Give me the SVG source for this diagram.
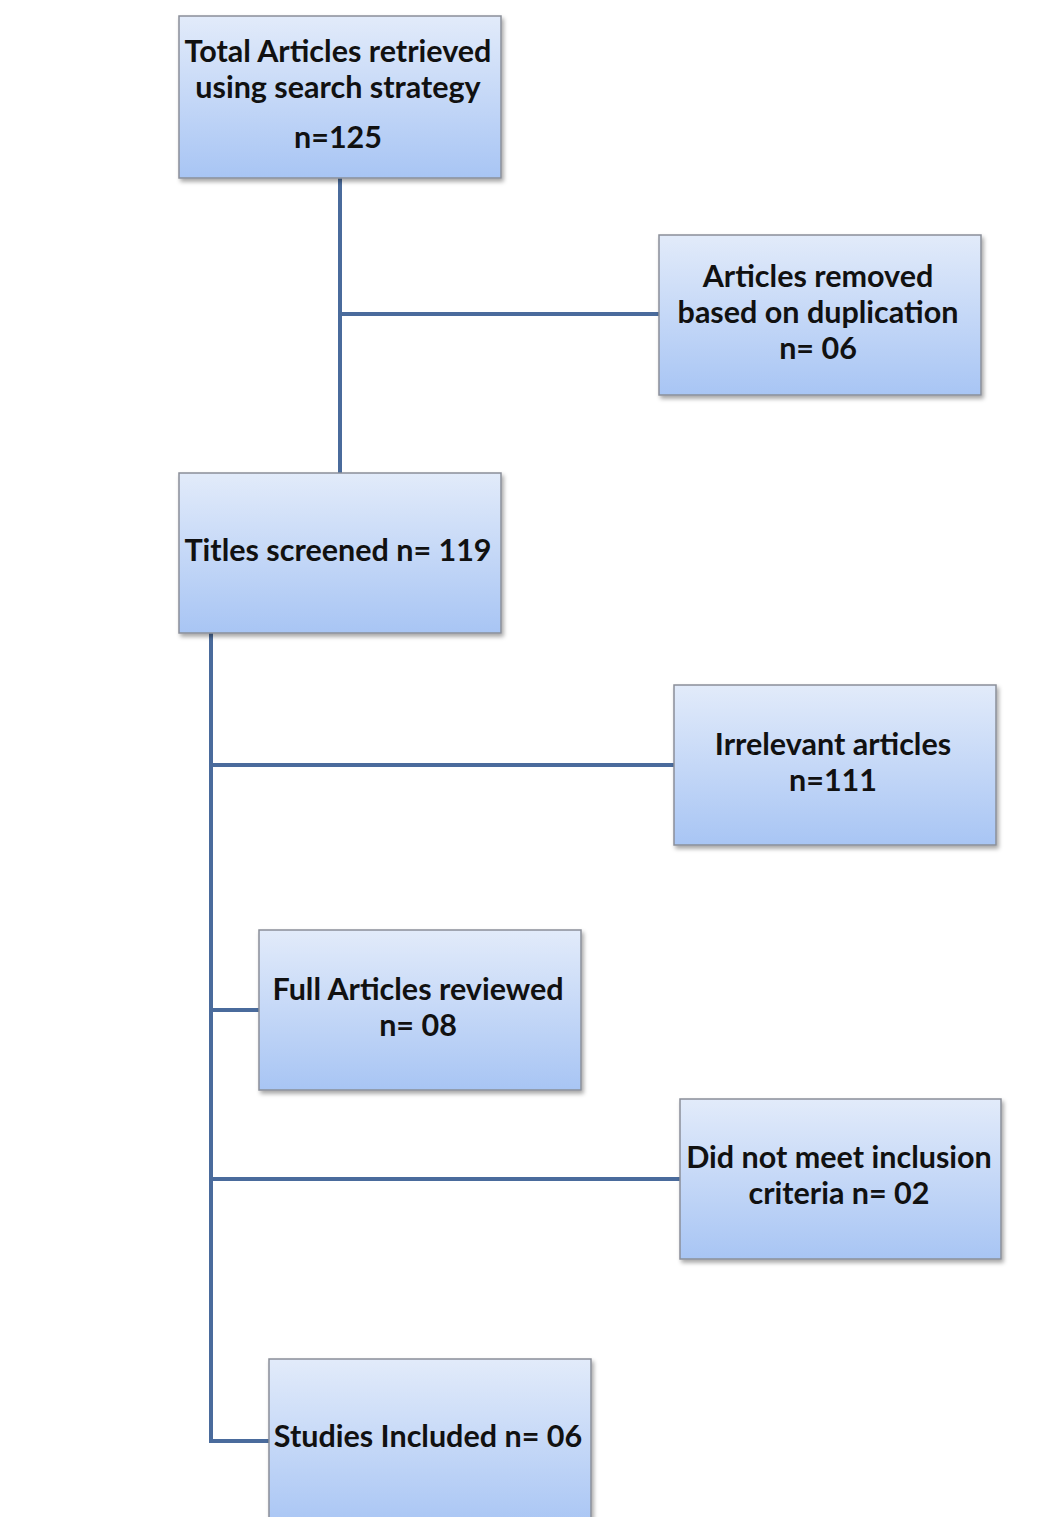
<svg xmlns="http://www.w3.org/2000/svg" width="1058" height="1517" viewBox="0 0 1058 1517">
<defs>
<linearGradient id="g" x1="0" y1="0" x2="0" y2="1">
<stop offset="0" stop-color="#e2ebfa"/>
<stop offset="1" stop-color="#a8c5f4"/>
</linearGradient>
<filter id="sh" x="-5%" y="-5%" width="112%" height="115%">
<feDropShadow dx="2" dy="3" stdDeviation="2" flood-color="#000" flood-opacity="0.35"/>
</filter>
</defs>
<style>
.box{fill:url(#g);stroke:#8a8f99;stroke-width:1.5;filter:url(#sh)}
.t{font-family:Lato,"Liberation Sans",sans-serif;font-weight:bold;font-size:30.5px;fill:#111;text-anchor:middle}
.c{stroke:#4a6b9c;stroke-width:4;fill:none}
</style>
<rect width="1058" height="1517" fill="#fff"/>
<g id="connectors">
<path class="c" d="M340,178 V473 M340,314 H659"/>
<path class="c" d="M211,633 V1441 H269 M211,765 H674 M211,1010 H259 M211,1179 H680"/>
</g>
<g id="n1"><rect class="box" x="179" y="16" width="322" height="162"/>
<text class="t" x="338" y="62">Total Articles retrieved</text>
<text class="t" x="338" y="98">using search strategy</text>
<text class="t" x="338" y="148">n=125</text></g>
<g id="n2"><rect class="box" x="659" y="235" width="322" height="160"/>
<text class="t" x="818" y="287">Articles removed</text>
<text class="t" x="818" y="323">based on duplication</text>
<text class="t" x="818" y="359">n= 06</text></g>
<g id="n3"><rect class="box" x="179" y="473" width="322" height="160"/>
<text class="t" x="338" y="561">Titles screened n= 119</text></g>
<g id="n4"><rect class="box" x="674" y="685" width="322" height="160"/>
<text class="t" x="833" y="755">Irrelevant articles</text>
<text class="t" x="833" y="791">n=111</text></g>
<g id="n5"><rect class="box" x="259" y="930" width="322" height="160"/>
<text class="t" x="418" y="1000">Full Articles reviewed</text>
<text class="t" x="418" y="1036">n= 08</text></g>
<g id="n6"><rect class="box" x="680" y="1099" width="321" height="160"/>
<text class="t" x="839" y="1168">Did not meet inclusion</text>
<text class="t" x="839" y="1204">criteria n= 02</text></g>
<g id="n7"><rect class="box" x="269" y="1359" width="322" height="170"/>
<text class="t" x="428" y="1447">Studies Included n= 06</text></g>
</svg>
